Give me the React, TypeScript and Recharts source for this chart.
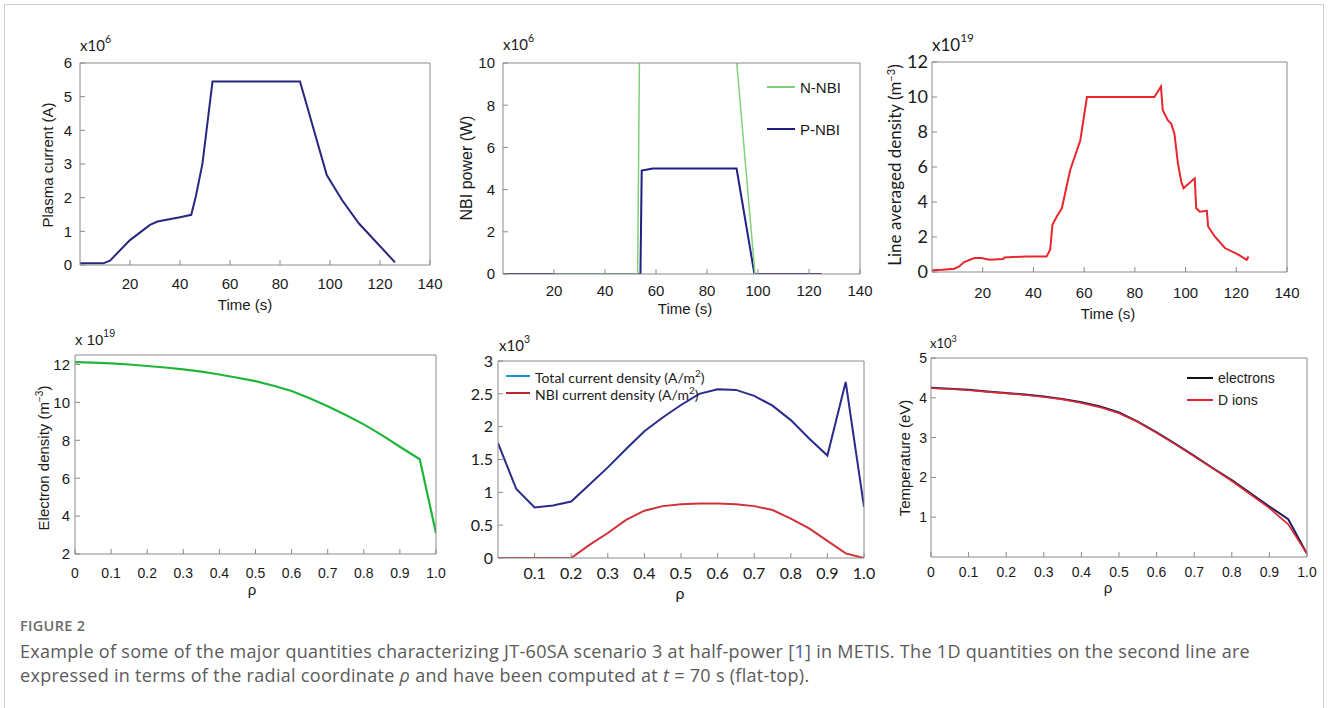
import React from 'react';
import { LineChart, Line, XAxis, YAxis } from 'recharts';

// ---------- data ----------
const plasmaTime = [0, 9.3, 12, 20, 28, 31, 40, 44.5, 46.3, 49, 53, 88, 98.7, 104.8, 111.5, 126];
const plasmaCurrent = [0.05, 0.05, 0.13, 0.74, 1.19, 1.29, 1.42, 1.49, 2.03, 3.02, 5.45, 5.45, 2.67, 1.93, 1.24, 0.08];

const nnbiTime = [20, 52.8, 53.5, 91.6, 98.8];
const nnbiPower = [0, 0, 10.1, 10.1, 0];
const pnbiTime = [0, 53.9, 54.4, 58.7, 91.6, 98.6, 125];
const pnbiPower = [0, 0, 4.9, 5.0, 5.0, 0, 0];

const densTime = [0, 4.1, 8.8, 10.7, 12.7, 16.7, 19.4, 22.7, 28, 28.6, 37.3, 45.2, 46.6, 47.5, 49.2, 51.2, 54.5, 58.5, 61.1, 87.7, 90.3, 91, 93, 94.3, 95.6, 97, 98.3, 99.2, 103.6, 104.2, 105.6, 108.4, 108.9, 111.5, 115.5, 120.8, 124.1, 124.8];
const densValue = [0.1, 0.13, 0.19, 0.32, 0.57, 0.8, 0.8, 0.7, 0.74, 0.83, 0.89, 0.89, 1.27, 2.7, 3.17, 3.64, 5.83, 7.53, 10.0, 10.0, 10.6, 9.24, 8.67, 8.48, 7.9, 6.2, 5.16, 4.78, 5.35, 3.64, 3.45, 3.5, 2.6, 2.03, 1.37, 0.99, 0.7, 0.89];

const neRho = [0, 0.05, 0.1, 0.15, 0.2, 0.25, 0.3, 0.35, 0.4, 0.45, 0.5, 0.55, 0.6, 0.65, 0.7, 0.75, 0.8, 0.85, 0.9, 0.955, 1.0];
const neValue = [12.12, 12.1, 12.06, 12.0, 11.92, 11.84, 11.74, 11.62, 11.47, 11.3, 11.12, 10.88, 10.6, 10.22, 9.8, 9.33, 8.84, 8.27, 7.66, 7.0, 3.1];

const rho21 = [0, 0.05, 0.1, 0.15, 0.2, 0.25, 0.3, 0.35, 0.4, 0.45, 0.5, 0.55, 0.6, 0.65, 0.7, 0.75, 0.8, 0.85, 0.9, 0.95, 1.0];
const jTotal = [1.75, 1.05, 0.77, 0.8, 0.86, 1.12, 1.38, 1.66, 1.93, 2.14, 2.33, 2.5, 2.57, 2.56, 2.47, 2.32, 2.1, 1.82, 1.56, 2.68, 0.78];
const jNbi = [0, 0, 0, 0, 0, 0.2, 0.38, 0.58, 0.72, 0.79, 0.82, 0.83, 0.83, 0.82, 0.79, 0.73, 0.6, 0.45, 0.26, 0.07, 0];

const teValue = [4.25, 4.23, 4.2, 4.16, 4.12, 4.08, 4.03, 3.97, 3.89, 3.78, 3.63, 3.4, 3.13, 2.84, 2.54, 2.23, 1.93, 1.6, 1.27, 0.95, 0.08];
const tiValue = [4.24, 4.22, 4.19, 4.15, 4.11, 4.07, 4.02, 3.96, 3.87, 3.76, 3.61, 3.39, 3.12, 2.83, 2.53, 2.22, 1.91, 1.57, 1.23, 0.82, 0.08];

const timeTicks = [20, 40, 60, 80, 100, 120, 140];
const rhoTicks = [0, 0.1, 0.2, 0.3, 0.4, 0.5, 0.6, 0.7, 0.8, 0.9, 1.0];
const rhoTicksNoZero = [0.1, 0.2, 0.3, 0.4, 0.5, 0.6, 0.7, 0.8, 0.9, 1.0];
const currentTicks = [0, 1, 2, 3, 4, 5, 6];
const powerTicks = [0, 2, 4, 6, 8, 10];
const densTicks = [0, 2, 4, 6, 8, 10, 12];
const neTicks = [2, 4, 6, 8, 10, 12];
const jTicks = [0, 0.5, 1, 1.5, 2, 2.5, 3];
const tempTicks = [1, 2, 3, 4, 5];

const zip = (xs: number[], ys: number[]) => xs.map((x, i) => ({ x, y: ys[i] }));
const rhoFmt = (v: number) => (v === 0 ? '0' : v.toFixed(1));

const BOX = '#8a8a8a';
const ARIAL = '"Liberation Sans", Arial, sans-serif';
const CAL = 'Lato, "Open Sans", sans-serif';

type Box = { left: number; top: number; right: number; bottom: number };
type Series = { data: { x: number; y: number }[]; color: string; width: number };

function Panel(props: {
  box: Box;
  xDomain: [number, number];
  yDomain: [number, number];
  xTicks: number[];
  yTicks: number[];
  xFmt?: (v: number) => string;
  yFmt?: (v: number) => string;
  series: Series[];
  xFont: string;
  xSize: number;
  yFont: string;
  ySize: number;
  xMargin: number;
  yMargin: number;
}) {
  const { box } = props;
  const padL = 60, padR = 30, padT = 20, padB = 40;
  const w = box.right - box.left + padL + padR;
  const h = box.bottom - box.top + padT + padB;
  const line = { stroke: BOX, strokeWidth: 1 };
  return (
    <div style={{ position: 'absolute', left: box.left - padL, top: box.top - padT }}>
      <LineChart width={w} height={h} margin={{ top: 0, right: 0, bottom: 0, left: 0 }}>
        <XAxis xAxisId="b" type="number" dataKey="x" orientation="bottom" domain={props.xDomain} ticks={props.xTicks}
          interval={0} allowDataOverflow height={padB} tickSize={-5} tickMargin={props.xMargin}
          tickFormatter={props.xFmt} tick={{ fill: '#1a1a1a', fontSize: props.xSize, fontFamily: props.xFont }}
          axisLine={line} tickLine={line} />
        <XAxis xAxisId="t" type="number" dataKey="x" orientation="top" domain={props.xDomain} ticks={props.xTicks}
          interval={0} allowDataOverflow height={padT} tickSize={-5} tick={false} axisLine={line} tickLine={line} />
        <YAxis yAxisId="l" type="number" orientation="left" domain={props.yDomain} ticks={props.yTicks}
          interval={0} allowDataOverflow width={padL} tickSize={-5} tickMargin={props.yMargin}
          tickFormatter={props.yFmt} tick={{ fill: '#1a1a1a', fontSize: props.ySize, fontFamily: props.yFont }}
          axisLine={line} tickLine={line} />
        <YAxis yAxisId="r" type="number" orientation="right" domain={props.yDomain} ticks={props.yTicks}
          interval={0} allowDataOverflow width={padR} tickSize={-5} tick={false} axisLine={line} tickLine={line} />
        {props.series.map((s, i) => (
          <Line key={i} xAxisId="b" yAxisId="l" data={s.data} dataKey="y" type="linear" stroke={s.color}
            strokeWidth={s.width} dot={false} activeDot={false} isAnimationActive={false} />
        ))}
      </LineChart>
    </div>
  );
}

const abs = (left: number, top: number, extra: React.CSSProperties = {}): React.CSSProperties => ({
  position: 'absolute', left, top, whiteSpace: 'nowrap', ...extra,
});

function VTitle({ cx, cy, size, font, children }: { cx: number; cy: number; size: number; font: string; children: React.ReactNode }) {
  return (
    <div style={abs(cx, cy, { transform: 'translate(-50%, -50%) rotate(-90deg)', fontSize: size, fontFamily: font, color: '#1a1a1a', lineHeight: 1 })}>
      {children}
    </div>
  );
}

function HTitle({ cx, cy, size, font, children }: { cx: number; cy: number; size: number; font: string; children: React.ReactNode }) {
  return (
    <div style={abs(cx, cy, { transform: 'translate(-50%, -50%)', fontSize: size, fontFamily: font, color: '#1a1a1a', lineHeight: 1 })}>
      {children}
    </div>
  );
}

function Exp({ left, top, size, font, base, exp }: { left: number; top: number; size: number; font: string; base: string; exp: string }) {
  return (
    <div style={abs(left, top, { fontSize: size, fontFamily: font, color: '#1a1a1a', lineHeight: 1 })}>
      {base}<sup style={{ fontSize: size * 0.7, verticalAlign: 'top', position: 'relative', top: -size * 0.25 }}>{exp}</sup>
    </div>
  );
}

function LegendRow({ left, y, color, label, size, font, len = 28 }: { left: number; y: number; color: string; label: React.ReactNode; size: number; font: string; len?: number }) {
  return (
    <>
      <div style={abs(left, y - 1, { width: len, height: 2, background: color })} />
      <div style={abs(left + len + 5, y, { transform: 'translateY(-50%)', fontSize: size, fontFamily: font, color: '#1a1a1a', lineHeight: 1 })}>{label}</div>
    </>
  );
}

export default function App() {
  const navy = '#27277f';
  return (
    <div style={{ position: 'absolute', left: 0, top: 0, width: 1328, height: 708, overflow: 'hidden', background: '#fff' }}>
      <div style={{ position: 'absolute', left: 4, top: 4, width: 1320, height: 730, border: '1px solid #cfcfcf', boxSizing: 'border-box' }} />

      {/* Panel 1: plasma current */}
      <Panel box={{ left: 80, top: 63, right: 430, bottom: 265 }} xDomain={[0, 140]} yDomain={[0, 6]}
        xTicks={timeTicks} yTicks={currentTicks} series={[{ data: zip(plasmaTime, plasmaCurrent), color: navy, width: 2 }]}
        xFont={ARIAL} xSize={15} yFont={ARIAL} ySize={15} xMargin={18} yMargin={13} />
      <Exp left={80} top={38} size={15} font={CAL} base="x10" exp="6" />
      <VTitle cx={47} cy={165} size={15} font={ARIAL}>Plasma current (A)</VTitle>
      <HTitle cx={245} cy={304} size={15} font={ARIAL}>Time (s)</HTitle>

      {/* Panel 2: NBI power */}
      <Panel box={{ left: 503, top: 63, right: 860, bottom: 274 }} xDomain={[0, 140]} yDomain={[0, 10]}
        xTicks={timeTicks} yTicks={powerTicks}
        series={[
          { data: zip(pnbiTime, pnbiPower), color: '#1f1f86', width: 2 },
          { data: zip(nnbiTime, nnbiPower), color: '#7fd07a', width: 1.5 },
        ]}
        xFont={ARIAL} xSize={15} yFont={ARIAL} ySize={15} xMargin={16} yMargin={13} />
      <Exp left={503} top={37} size={15} font={CAL} base="x10" exp="6" />
      <VTitle cx={467} cy={168} size={16} font={ARIAL}>NBI power (W)</VTitle>
      <HTitle cx={685} cy={308} size={15} font={ARIAL}>Time (s)</HTitle>
      <LegendRow left={767} y={87} color="#7fd07a" label="N-NBI" size={15} font={ARIAL} />
      <LegendRow left={767} y={129} color="#1f1f86" label="P-NBI" size={15} font={ARIAL} />

      {/* Panel 3: line averaged density */}
      <Panel box={{ left: 932, top: 62, right: 1287, bottom: 272 }} xDomain={[0, 140]} yDomain={[0, 12]}
        xTicks={timeTicks} yTicks={densTicks} series={[{ data: zip(densTime, densValue), color: '#e8262c', width: 2 }]}
        xFont={ARIAL} xSize={15} yFont={CAL} ySize={18} xMargin={20} yMargin={9} />
      <Exp left={932} top={36} size={17} font={CAL} base="x10" exp="19" />
      <VTitle cx={894} cy={165} size={17} font={CAL}>Line averaged density (m<sup style={{ fontSize: 11 }}>−3</sup>)</VTitle>
      <HTitle cx={1108} cy={313} size={15} font={ARIAL}>Time (s)</HTitle>

      {/* Panel 4: electron density */}
      <Panel box={{ left: 75, top: 355, right: 436, bottom: 554 }} xDomain={[0, 1]} yDomain={[2, 12.5]}
        xTicks={rhoTicks} yTicks={neTicks} xFmt={rhoFmt} series={[{ data: zip(neRho, neValue), color: '#1fb53a', width: 2.2 }]}
        xFont={ARIAL} xSize={14} yFont={ARIAL} ySize={15} xMargin={19} yMargin={10} />
      <Exp left={75} top={332} size={15} font={ARIAL} base="x 10" exp="19" />
      <VTitle cx={43} cy={458} size={15} font={ARIAL}>Electron density (m<sup style={{ fontSize: 10 }}>−3</sup>)</VTitle>
      <HTitle cx={252} cy={589} size={15} font={ARIAL}>ρ</HTitle>

      {/* Panel 5: current density */}
      <Panel box={{ left: 498, top: 361, right: 864, bottom: 558 }} xDomain={[0, 1]} yDomain={[0, 3]}
        xTicks={rhoTicksNoZero} yTicks={jTicks} xFmt={rhoFmt}
        series={[
          { data: zip(rho21, jTotal), color: '#2b2b8c', width: 2 },
          { data: zip(rho21, jNbi), color: '#d0323a', width: 2 },
        ]}
        xFont={CAL} xSize={16} yFont={CAL} ySize={16} xMargin={15} yMargin={10} />
      <Exp left={499} top={338} size={15} font={CAL} base="x10" exp="3" />
      <HTitle cx={680} cy={593} size={16} font={CAL}>ρ</HTitle>
      <LegendRow left={506} y={376} color="#1f8fc8" len={24} label={<span>Total current density (A/m<sup style={{ fontSize: 10 }}>2</sup>)</span>} size={14} font={CAL} />
      <LegendRow left={506} y={393} color="#b8262e" len={24} label={<span>NBI current density (A/m<sup style={{ fontSize: 10 }}>2</sup>)</span>} size={14} font={CAL} />

      {/* Panel 6: temperature */}
      <Panel box={{ left: 931, top: 358, right: 1307, bottom: 557 }} xDomain={[0, 1]} yDomain={[0, 5]}
        xTicks={rhoTicks} yTicks={tempTicks} xFmt={rhoFmt}
        series={[
          { data: zip(rho21, teValue), color: '#1c1c5e', width: 2 },
          { data: zip(rho21, tiValue), color: '#e0282e', width: 1.6 },
        ]}
        xFont={ARIAL} xSize={14} yFont={ARIAL} ySize={14} xMargin={15} yMargin={9} />
      <Exp left={930} top={337} size={13} font={CAL} base="x10" exp="3" />
      <VTitle cx={904} cy={458} size={15} font={ARIAL}>Temperature (eV)</VTitle>
      <HTitle cx={1108} cy={587} size={15} font={ARIAL}>ρ</HTitle>
      <LegendRow left={1187} y={378} color="#111" len={26} label="electrons" size={14} font={ARIAL} />
      <LegendRow left={1187} y={400} color="#e0282e" len={26} label="D ions" size={14} font={ARIAL} />

      {/* Caption */}
      <div style={abs(20, 617, { fontFamily: '"Open Sans", sans-serif', fontSize: 14.5, fontWeight: 600, letterSpacing: 0.3, color: '#6a6a6a', lineHeight: '18px' })}>FIGURE 2</div>
      <div style={{ position: 'absolute', left: 20, top: 639, width: 1300, fontFamily: '"Open Sans", sans-serif', fontSize: 18, letterSpacing: 0.3, lineHeight: '24px', color: '#5a5a5a', whiteSpace: 'nowrap' }}>
        Example of some of the major quantities characterizing JT-60SA scenario 3 at half-power [<span style={{ color: '#3b5aa5' }}>1</span>] in METIS. The 1D quantities on the second line are<br />
        expressed in terms of the radial coordinate <i>ρ</i> and have been computed at <i>t</i> = 70 s (flat-top).
      </div>
    </div>
  );
}
